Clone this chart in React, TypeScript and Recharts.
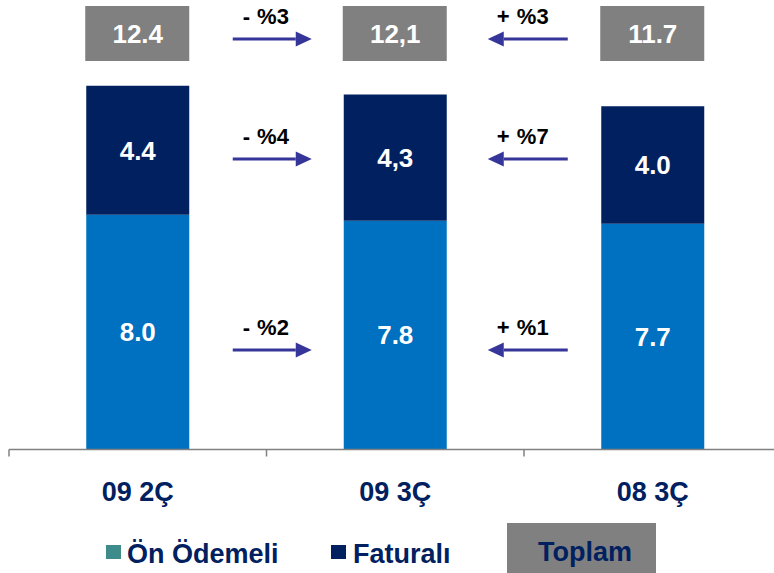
import { BarChart, Bar, XAxis, YAxis, LabelList } from "recharts";

const categories = ["09 2Ç", "09 3Ç", "08 3Ç"];
const onOdemeli = [8.0, 7.8, 7.7];
const faturali = [4.4, 4.3, 4.0];
const toplam = [12.4, 12.1, 11.7];

// labels as printed on the slide (mixed decimal marks)
const onLabels = ["8.0", "7.8", "7.7"];
const fatLabels = ["4.4", "4,3", "4.0"];
const topLabels = ["12.4", "12,1", "11.7"];

// change of 09 3Ç vs neighbours: [toplam, faturalı, ön ödemeli]
const leftChanges = ["- %3", "- %4", "- %2"];
const rightChanges = ["+ %3", "+ %7", "+ %1"];

const data = categories.map((name, i) => ({
  name,
  onOdemeli: onOdemeli[i],
  faturali: faturali[i],
  toplam: toplam[i],
  onLabel: onLabels[i],
  fatLabel: fatLabels[i],
  topLabel: topLabels[i],
}));

const FONT = "'Liberation Sans', Arial, sans-serif";
const NAVY = "#002060";
const BLUE = "#0070C0";
const GREY = "#808080";
const ARROW = "#35359A";
const CHART_W = 800;
const MARGIN = { top: 9.5, right: 18.5, left: 9, bottom: 63.5 };
const BAND = (CHART_W - MARGIN.left - MARGIN.right) / categories.length;

function Arrow({ x1, x2, y }: { x1: number; x2: number; y: number }) {
  const dir = x2 > x1 ? 1 : -1;
  const base = x2 - dir * 16;
  return (
    <g>
      <line x1={x1} x2={base} y1={y} y2={y} stroke={ARROW} strokeWidth={3} />
      <polygon points={`${base},${y - 7.5} ${x2},${y} ${base},${y + 7.5}`} fill={ARROW} />
    </g>
  );
}

// arrows + % texts drawn around the middle bar
function changes(row: number, arrowY: number) {
  return (p: any) => {
    if (p.index !== 1) return null;
    const left = p.x;
    const right = p.x + p.width;
    const txt = { fontFamily: FONT, fontWeight: 700, fontSize: 22, fill: "#000", textAnchor: "middle" as const, style: { wordSpacing: 1 } };
    return (
      <g>
        <text x={left - 78} y={arrowY - 15} {...txt}>{leftChanges[row]}</text>
        <Arrow x1={left - 111} x2={left - 32} y={arrowY} />
        <text x={right + 76} y={arrowY - 15} {...txt}>{rightChanges[row]}</text>
        <Arrow x1={right + 121} x2={right + 41} y={arrowY} />
      </g>
    );
  };
}

function totalBox(p: any) {
  return (
    <g>
      <rect x={p.x - 1} y={6} width={p.width + 1} height={55} fill={GREY} />
      <text
        x={p.x + p.width / 2}
        y={33.5}
        textAnchor="middle"
        dominantBaseline="central"
        fill="#fff"
        fontFamily={FONT}
        fontWeight={700}
        fontSize={26}
      >
        {p.value}
      </text>
    </g>
  );
}

function CatTick(props: any) {
  const { x, y, payload, index } = props;
  const half = BAND / 2;
  return (
    <g>
      <line x1={x - half} x2={x - half} y1={y} y2={y + 7} stroke={GREY} strokeWidth={1.5} />
      {index === categories.length - 1 && (
        <line x1={x + half} x2={x + half} y1={y} y2={y + 7} stroke={GREY} strokeWidth={1.5} />
      )}
      <text x={x} y={y + 51.5} textAnchor="middle" fill={NAVY} fontFamily={FONT} fontWeight={700} fontSize={27}>
        {payload.value}
      </text>
    </g>
  );
}

const valueStyle = { fill: "#fff", fontFamily: FONT, fontWeight: 700, fontSize: 26 };

export default function App() {
  return (
    <div style={{ position: "absolute", left: 0, top: 0, width: 774, height: 573, overflow: "hidden", background: "#fff" }}>
      <BarChart width={CHART_W} height={573} data={data} margin={MARGIN} barCategoryGap="30%">
        <XAxis
          dataKey="name"
          height={60}
          tickLine={false}
          tickSize={0}
          tickMargin={0}
          axisLine={{ stroke: GREY, strokeWidth: 1.5 }}
          tick={<CatTick />}
          interval={0}
        />
        <YAxis hide domain={[0, 15]} />
        <Bar dataKey="onOdemeli" stackId="a" fill={BLUE} isAnimationActive={false}>
          <LabelList dataKey="onLabel" position="center" {...valueStyle} />
          <LabelList dataKey="onLabel" content={changes(2, 350)} />
        </Bar>
        <Bar dataKey="faturali" stackId="a" fill={NAVY} isAnimationActive={false}>
          <LabelList dataKey="fatLabel" position="center" {...valueStyle} />
          <LabelList dataKey="fatLabel" content={changes(1, 159)} />
          <LabelList dataKey="topLabel" content={totalBox} />
          <LabelList dataKey="topLabel" content={changes(0, 39)} />
        </Bar>
      </BarChart>
      <svg width={774} height={573} style={{ position: "absolute", left: 0, top: 0, pointerEvents: "none" }}>
        <rect x={106} y={545} width={15} height={14} fill="#3D8B8B" />
        <text x={127} y={562.5} fill={NAVY} fontFamily={FONT} fontWeight={700} fontSize={27}>Ön Ödemeli</text>
        <rect x={331} y={545} width={15} height={14} fill={NAVY} />
        <text x={353} y={562.5} fill={NAVY} fontFamily={FONT} fontWeight={700} fontSize={27}>Faturalı</text>
        <rect x={507} y={523} width={149} height={52} fill={GREY} />
        <text x={538} y={561} fill={NAVY} fontFamily={FONT} fontWeight={700} fontSize={27}>Toplam</text>
      </svg>
    </div>
  );
}
